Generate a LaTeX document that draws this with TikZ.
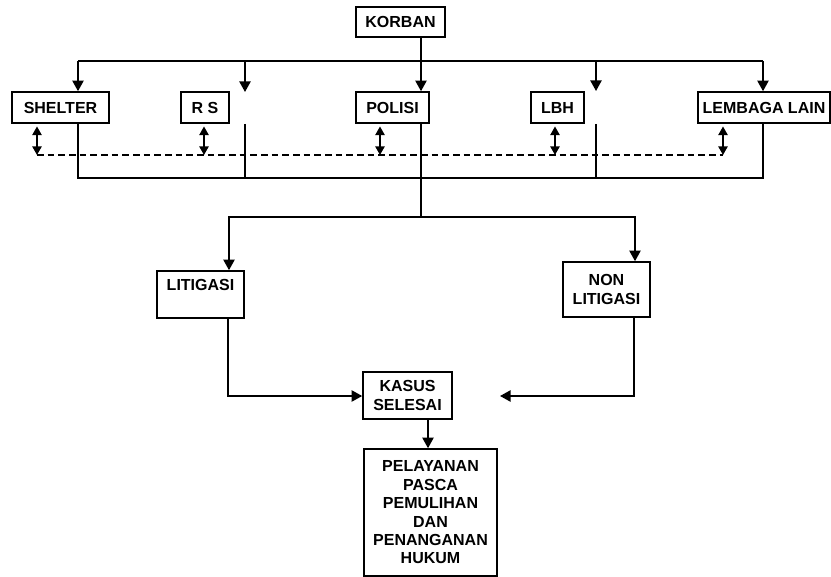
\documentclass[tikz,border=0pt]{standalone}
\usepackage{fontspec}
\setmainfont{Liberation Sans}
\usetikzlibrary{arrows.meta}

\begin{document}
\begin{tikzpicture}[
    x=0.75pt, y=-0.75pt,
    box/.style={draw, line width=1.2pt, inner sep=0pt, align=center,
      font=\bfseries\fontsize{12}{13.8}\selectfont},
    link/.style={line width=1.2pt},
    both/.style={line width=1.2pt, {Triangle[length=6.5pt,width=7pt]}-{Triangle[length=6.5pt,width=7pt]}},
    >={Triangle[length=8pt,width=8.5pt]}
  ]
  \useasboundingbox (0,0) rectangle (831,577);
  % boxes
  \node[box, minimum width=66.75pt, minimum height=22.5pt] (korban) at (400.5,22) {KORBAN};
  \node[box, minimum width=72.75pt, minimum height=23.25pt] (shelter) at (60.5,107.5) {SHELTER};
  \node[box, minimum width=36pt, minimum height=23.25pt] (rs) at (205,107.5) {R S};
  \node[box, minimum width=54.75pt, minimum height=23.25pt] (polisi) at (392.5,107.5) {POLISI};
  \node[box, minimum width=39.75pt, minimum height=23.25pt] (lbh) at (557.5,107.5) {LBH};
  \node[box, minimum width=99pt, minimum height=23.25pt] (lain) at (764,107.5) {LEMBAGA LAIN};
  \node[box, minimum width=65.25pt, minimum height=35.25pt] (litigasi) at (200.5,294.5) {LITIGASI\\~};
  \node[box, minimum width=65.25pt, minimum height=41.25pt] (nonlit) at (606.5,289.5) {NON\\LITIGASI};
  \node[box, minimum width=66.75pt, minimum height=35.25pt] (kasus) at (407.5,395.5) {KASUS\\SELESAI};
  \node[box, minimum width=99.75pt, minimum height=95.25pt] (pelayanan) at (430.5,512.5)
    {PELAYANAN\\PASCA\\PEMULIHAN\\DAN\\PENANGANAN\\HUKUM};

  % bus points
  \coordinate (t1) at (78,61);
  \coordinate (t2) at (245,61);
  \coordinate (t3) at (421,61);
  \coordinate (t4) at (596,61);
  \coordinate (t5) at (763,61);
  \coordinate (b1) at (78,178);
  \coordinate (b2) at (245,178);
  \coordinate (b4) at (596,178);
  \coordinate (b5) at (763,178);
  \coordinate (rsin) at (245,92);
  \coordinate (lbhin) at (596,91);
  \coordinate (rsout) at (245,124);
  \coordinate (lbhout) at (596,124);
  \coordinate (split) at (421,217);
  \coordinate (l1) at (229,217);
  \coordinate (l2) at (635,217);
  \coordinate (k1) at (228,396);
  \coordinate (k2) at (634,396);
  \coordinate (kin) at (500,396);
  \coordinate (kdown) at (428,0);

  % top bus
  \draw[link] (t1) -- (t5);
  \draw[link,->] (t1) -- (t1 |- shelter.north);
  \draw[link,->] (t2) -- (rsin);
  \draw[link,->] (korban.south -| t3) -- (t3 |- polisi.north);
  \draw[link,->] (t4) -- (lbhin);
  \draw[link,->] (t5) -- (t5 |- lain.north);

  % bottom bus
  \draw[link] (shelter.south -| b1) -- (b1) -- (b5) -- (lain.south -| b5);
  \draw[link] (rsout) -- (b2);
  \draw[link] (lbhout) -- (b4);

  % two-way links
  \foreach \n/\x in {shelter/37, rs/204, polisi/380, lbh/555, lain/723}
    \draw[both] ([yshift=-2pt]\n.south -| \x,0) -- (\x,155);
  \draw[line width=1.2pt, dash pattern=on 5pt off 3pt] (37,155) -- (723,155);

  % litigasi / non litigasi
  \draw[link] (polisi.south -| split) -- (split);
  \draw[link,->] (split) -- (l1) -- (l1 |- litigasi.north);
  \draw[link,->] (split) -- (l2) -- (l2 |- nonlit.north);
  \draw[link,->] (litigasi.south -| k1) -- (k1) -- (kasus.west |- k1);
  \draw[link,->] (nonlit.south -| k2) -- (k2) -- (kin);
  \draw[link,->] (kasus.south -| kdown) -- (pelayanan.north -| kdown);
\end{tikzpicture}
\end{document}
